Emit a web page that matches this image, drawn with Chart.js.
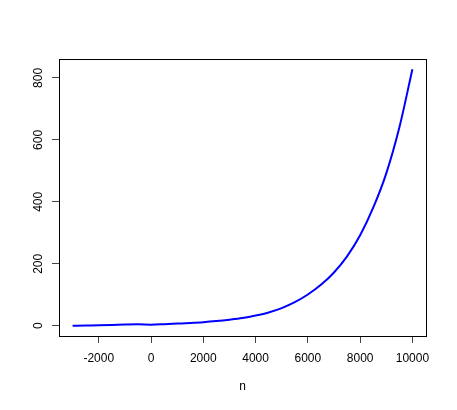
<!DOCTYPE html>
<html>
<head>
<meta charset="utf-8">
<script src="https://cdn.jsdelivr.net/npm/chart.js@4"></script>
<style>
  html, body { margin: 0; padding: 0; background: #fff; }
  #wrap { width: 457px; height: 410px; }
</style>
</head>
<body>
<div id="wrap"><canvas id="chart" width="457" height="410"></canvas></div>
<script>
// values
const nValues = [-3000, -2500, -2000, -1500, -1000, -500, 0, 500, 1000, 1500, 2000, 2500, 3000, 3500,
  4000, 4500, 5000, 5500, 6000, 6500, 7000, 7500, 8000, 8500, 9000, 9500, 10000]
const yValues = [0, 0.8, 1.5, 2.5, 3.8, 4.5, 3.5, 5, 7, 9, 11.5, 15, 19.5, 25,
  33, 43, 57, 76, 101, 132, 172, 224, 292, 381, 492, 640, 828]
const xTicks = [-2000, 0, 2000, 4000, 6000, 8000, 10000]
const yTicks = [0, 200, 400, 600, 800]
const xTitle = 'n'

const font = { family: '"Liberation Sans", Arial, sans-serif', size: 12 }

// R style: closed box around the plot area
const boxPlugin = {
  id: 'box',
  afterDraw(chart) {
    const { ctx, chartArea: a } = chart
    ctx.save()
    ctx.strokeStyle = '#000'
    ctx.lineWidth = 1
    ctx.strokeRect(Math.round(a.left) + 0.5, Math.round(a.top) + 0.5,
      Math.round(a.right - a.left), Math.round(a.bottom - a.top))
    ctx.restore()
  }
}

new Chart(document.getElementById('chart'), {
  type: 'line',
  data: {
    datasets: [{
      data: nValues.map((n, i) => ({ x: n, y: yValues[i] })),
      borderColor: '#0000ff',
      borderWidth: 2,
      pointRadius: 0,
      cubicInterpolationMode: 'monotone',
      fill: false
    }]
  },
  options: {
    responsive: false,
    animation: false,
    layout: { padding: { left: 0, right: 31, top: 59, bottom: 16 } },
    plugins: { legend: { display: false }, tooltip: { enabled: false } },
    scales: {
      x: {
        type: 'linear',
        min: -3520,
        max: 10520,
        afterBuildTicks: scale => { scale.ticks = xTicks.map(v => ({ value: v })) },
        afterFit: scale => { scale.height = 58 },
        grid: { drawOnChartArea: false, drawTicks: true, tickLength: 7, color: '#444' },
        border: { display: false },
        ticks: { color: '#000', font, padding: 8, maxRotation: 0, callback: v => String(v) },
        title: { display: true, text: xTitle, color: '#000', font, padding: 0 }
      },
      y: {
        type: 'linear',
        min: -33.1,
        max: 861.1,
        afterBuildTicks: scale => { scale.ticks = yTicks.map(v => ({ value: v })) },
        afterFit: scale => { scale.width = 59 },
        grid: { drawOnChartArea: false, drawTicks: true, tickLength: 7, color: '#444' },
        border: { display: false },
        ticks: { color: '#000', font, padding: 3, minRotation: 90, maxRotation: 90, crossAlign: 'center', callback: v => String(v) }
      }
    }
  },
  plugins: [boxPlugin]
})
</script>
</body>
</html>
